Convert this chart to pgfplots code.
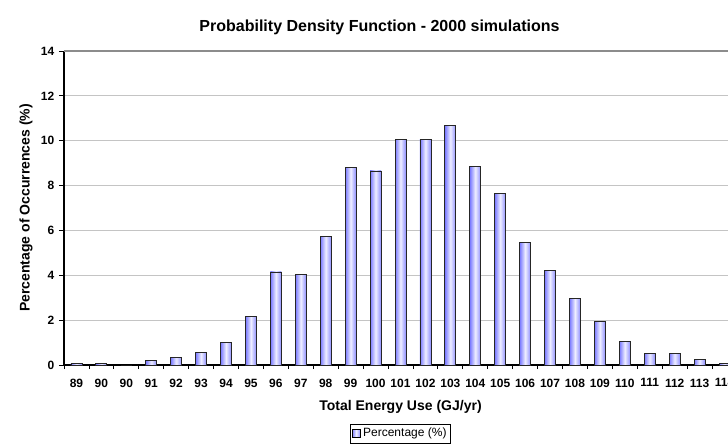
\documentclass[border=0pt]{standalone}
\usepackage{pgfplots}
\usepackage{pgfplotstable}
\pgfplotsset{compat=1.18}
\usepackage{fontspec}
\setmainfont{Liberation Sans}
\definecolor{gridgray}{RGB}{196,196,196}
\definecolor{topgray}{RGB}{140,140,140}
\definecolor{barL}{RGB}{120,120,255}
\definecolor{barM}{RGB}{238,238,255}
\definecolor{barR}{RGB}{140,140,255}
\pgfplotstableread{
x y
0 0.05
1 0.05
2 0
3 0.2
4 0.35
5 0.55
6 1.0
7 2.15
8 4.15
9 4.05
10 5.75
11 8.8
12 8.65
13 10.05
14 10.05
15 10.7
16 8.85
17 7.65
18 5.45
19 4.2
20 2.95
21 1.95
22 1.05
23 0.5
24 0.5
25 0.25
26 0.05
}\pdfdata
\pgfplotsset{barstyle/.style={ybar, bar width=8.25pt, draw=black!85, line width=0.6pt, left color=barL, right color=barR, middle color=barM}}
\begin{document}
\begin{tikzpicture}
\useasboundingbox (0,0) rectangle (546pt,334.5pt);
\clip (0,0) rectangle (546pt,334.5pt);
\begin{axis}[
  at={(48pt,60.75pt)}, anchor=south west,
  width=504.75pt, height=235.5pt, scale only axis,
  xmin=-0.5, xmax=26.5, ymin=0, ymax=14,
  axis x line*=bottom, axis y line*=left,
  axis line style={black, line width=0.8pt},
  ytick={0,2,...,14},
  xtick={0,...,26},
  xticklabels={89,90,90,91,92,93,94,95,96,97,98,99,100,101,102,103,104,105,106,107,108,109,110,111,112,113,114},
  minor xtick={-0.5,0.5,...,26.5},
  tick align=outside,
  major tick length=3.75pt,
  minor tick length=3pt,
  major x tick style={draw=none},
  tick style={black, line width=0.6pt},
  ymajorgrids=true,
  grid style={gridgray, line width=0.8pt},
  /pgf/number format/assume math mode=true,
  tick label style={font=\bfseries\fontsize{9}{11}\selectfont},
  xticklabel style={yshift=-3pt},
  title={Probability Density Function - 2000 simulations},
  title style={font=\bfseries\fontsize{12}{14}\selectfont, at={(axis description cs:0.5,1)}, anchor=center, xshift=-15.75pt, yshift=12pt},
  xlabel={Total Energy Use (GJ/yr)},
  xlabel style={font=\bfseries\fontsize{10.5}{12}\selectfont, at={(axis description cs:0.5,0)}, anchor=center, yshift=-31.5pt},
  ylabel={Percentage of Occurrences (\%)},
  ylabel style={font=\bfseries\fontsize{10.5}{12}\selectfont, at={(axis description cs:-0.0565,0.5)}, anchor=center},
  legend style={at={(axis description cs:0.5,0)}, anchor=center, yshift=-51.4pt, draw=black, font=\fontsize{9}{10}\selectfont, inner sep=1pt, row sep=0pt},
  legend image code/.code={\draw[#1, draw=black, line width=0.5pt] (0pt,-3pt) rectangle (6pt,3pt);},
]
\pgfplotsinvokeforeach{0,...,26}{
  \addplot[barstyle, forget plot] table[x=x, y=y, restrict expr to domain={\coordindex}{#1:#1}] {\pdfdata};
}
\addlegendimage{barstyle}
\addlegendentry{Percentage (\%)}
\draw[topgray, line width=1.5pt] (rel axis cs:0,1) -- (rel axis cs:1,1);
\end{axis}
\end{tikzpicture}
\end{document}
